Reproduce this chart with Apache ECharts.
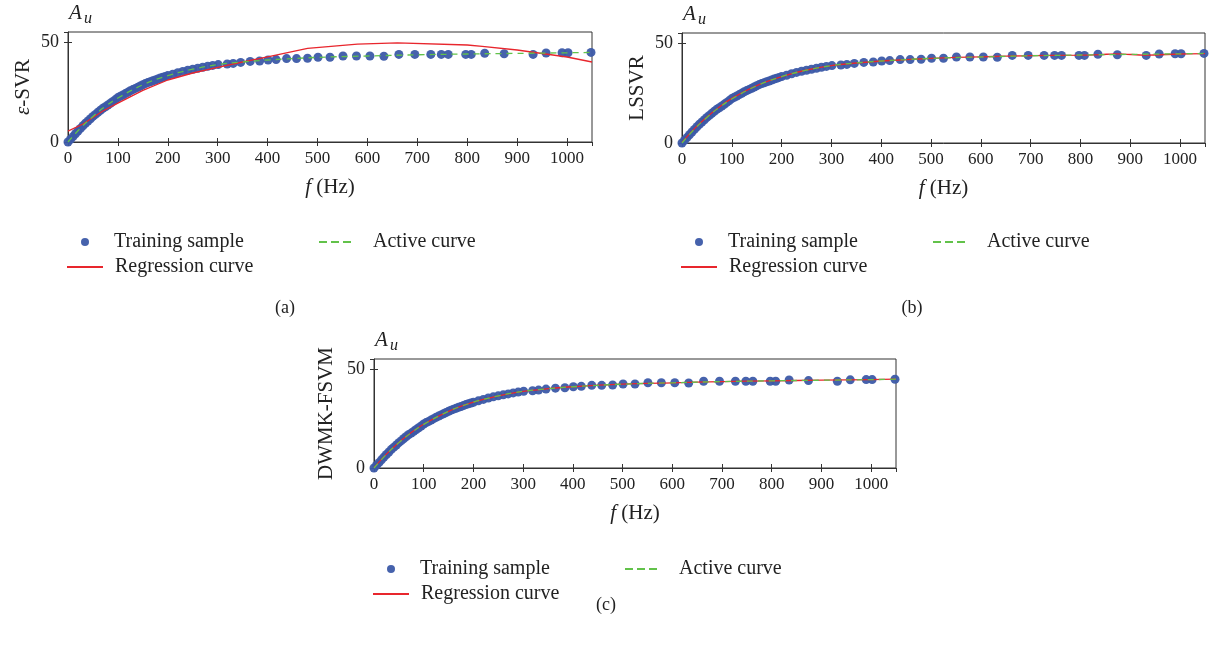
<!DOCTYPE html>
<html>
<head>
<meta charset="utf-8">
<script src="https://cdn.jsdelivr.net/npm/echarts@6/dist/echarts.min.js"></script>
<style>
  html, body { margin: 0; padding: 0; background: #fff; }
  #main { width: 1210px; height: 648px; }
</style>
</head>
<body>
<div id="main"></div>
<script>
// training samples (Hz, A_u)
var sampleFreq = [0, 5, 10, 15, 20, 25, 30, 35, 40, 45, 50, 55, 60, 65, 70, 75, 80, 85, 90, 95,
  100, 105, 110, 115, 120, 125, 130, 135, 140, 145, 150, 155, 160, 165, 170, 175, 180, 185, 190, 195,
  200, 210, 220, 230, 240, 250, 260, 270, 280, 290, 301, 319, 331, 346, 365, 384, 401, 417, 438, 458,
  480, 501, 525, 551, 578, 605, 633, 663, 695, 727, 748, 762, 797, 808, 835, 874, 932, 958, 990, 1002, 1048];
var sampleAmp = [0, 1.3, 2.7, 4.1, 5.5, 6.8, 8.1, 9.4, 10.5, 11.6, 12.8, 13.8, 14.9, 15.9, 16.9, 17.6, 18.5, 19.4, 20.3, 21.2,
  22.2, 22.9, 23.5, 24.2, 24.9, 25.6, 26.2, 26.8, 27.4, 28.0, 28.6, 29.2, 29.7, 30.1, 30.6, 31.0, 31.5, 32.0, 32.4, 32.8,
  33.2, 33.9, 34.6, 35.3, 35.9, 36.4, 36.9, 37.4, 37.9, 38.3, 38.7, 39.0, 39.3, 39.8, 40.3, 40.5, 41.0, 41.2, 41.7, 41.7,
  41.9, 42.4, 42.4, 43.0, 43.0, 43.0, 42.9, 43.8, 43.8, 43.8, 43.8, 43.8, 43.8, 43.8, 44.4, 44.1, 43.8, 44.5, 44.6, 44.6, 44.8];

// active curve (same in every panel)
var activeFreq = [0, 25, 50, 75, 100, 150, 200, 250, 300, 350, 400, 500, 600, 700, 800, 900, 1000, 1050];
var activeAmp = [0, 6.9, 12.8, 17.8, 22.0, 28.6, 33.2, 36.4, 38.7, 40.0, 41.0, 42.3, 43.0, 43.6, 44.0, 44.3, 44.6, 44.8];

// regression curves
var regAFreq = [0, 30, 70, 100, 150, 200, 250, 300, 350, 400, 480, 580, 660, 800, 830, 900, 1000, 1050];
var regAAmp = [5.4, 9.0, 15.5, 19.4, 25.8, 31.0, 34.5, 37.3, 40.0, 42.6, 46.8, 48.9, 49.6, 48.5, 47.8, 46.0, 42.5, 40.0];
var regBFreq = [0, 25, 50, 75, 100, 150, 200, 250, 300, 350, 400, 450, 500, 550, 600, 650, 700, 800, 840, 874, 930, 1000, 1050];
var regBAmp = [0.3, 7.2, 13.0, 18.0, 22.3, 28.7, 33.2, 36.5, 38.7, 40.0, 41.0, 41.7, 42.3, 42.8, 43.1, 43.4, 43.7, 43.9, 44.2, 44.6, 43.9, 44.5, 44.7];
var regCFreq = [0, 25, 50, 75, 100, 150, 200, 250, 300, 350, 400, 500, 600, 700, 800, 900, 1000, 1050];
var regCAmp = [0.2, 7.0, 12.9, 17.9, 22.1, 28.6, 33.2, 36.4, 38.7, 40.0, 41.0, 42.3, 43.0, 43.6, 44.0, 44.3, 44.6, 44.8];

var panelNames = ['{i|ε}-SVR', 'LSSVR', 'DWMK-FSVM'];
var captions = ['(a)', '(b)', '(c)'];

var FONT = "'Liberation Serif', 'DejaVu Serif', serif";
var BLUE = '#3c5aa8', RED = '#e8262d', GREEN = '#62c24a';

var grids = [
  {left: 68, top: 32, width: 524, height: 110, nameGap: 34},
  {left: 682, top: 33, width: 523, height: 110, nameGap: 34},
  {left: 374, top: 359, width: 522, height: 109, nameGap: 37}
];
var legendRow = [242, 242, 569];
var captionPos = [[285, 308], [912, 308], [606, 605]];

function pairs(xs, ys) {
  var out = [];
  for (var i = 0; i < xs.length; i++) out.push([xs[i], ys[i]]);
  return out;
}

var regs = [pairs(regAFreq, regAAmp), pairs(regBFreq, regBAmp), pairs(regCFreq, regCAmp)];
var samples = pairs(sampleFreq, sampleAmp);
var active = pairs(activeFreq, activeAmp);

var option = {
  animation: false,
  backgroundColor: '#fff',
  textStyle: {fontFamily: FONT},
  grid: [], xAxis: [], yAxis: [], series: [], legend: [], graphic: []
};

function plain(v) { return String(v); }

for (var p = 0; p < 3; p++) {
  var g = grids[p];
  option.grid.push({left: g.left, top: g.top, width: g.width, height: g.height,
    show: true, borderColor: '#333', borderWidth: 1, backgroundColor: 'transparent'});
  // bottom x axis
  option.xAxis.push({
    type: 'value', gridIndex: p, min: 0, max: 1050, interval: 100, position: 'bottom',
    name: '{i|f} (Hz)', nameLocation: 'middle', nameGap: 35,
    nameTextStyle: {fontFamily: FONT, fontSize: 21, color: '#222',
      rich: {i: {fontFamily: FONT, fontSize: 21, fontStyle: 'italic', color: '#222'}}},
    axisLine: {show: true, lineStyle: {color: '#333'}},
    axisTick: {inside: true, length: 4, lineStyle: {color: '#333'}},
    axisLabel: {fontFamily: FONT, fontSize: 17, color: '#222', margin: 8, showMaxLabel: false, formatter: plain},
    splitLine: {show: false}
  });
  // top x axis (ticks only)
  option.xAxis.push({
    type: 'value', gridIndex: p, min: 0, max: 1050, interval: 100, position: 'top',
    axisLine: {show: false}, axisLabel: {show: false},
    axisTick: {inside: true, length: 4, lineStyle: {color: '#333'}},
    splitLine: {show: false}
  });
  // left y axis
  option.yAxis.push({
    type: 'value', gridIndex: p, min: 0, max: 55, interval: 50, position: 'left',
    name: panelNames[p], nameLocation: 'middle', nameGap: g.nameGap, nameRotate: 90,
    nameTextStyle: {fontFamily: FONT, fontSize: 21, color: '#222',
      rich: {i: {fontFamily: FONT, fontSize: 21, fontStyle: 'italic', color: '#222'}}},
    axisLine: {show: true, lineStyle: {color: '#333'}},
    axisTick: {inside: true, length: 4, lineStyle: {color: '#333'}},
    axisLabel: {fontFamily: FONT, fontSize: 18, color: '#222', margin: 9, showMaxLabel: false, formatter: plain},
    splitLine: {show: false}
  });
  // right y axis (ticks only)
  option.yAxis.push({
    type: 'value', gridIndex: p, min: 0, max: 55, interval: 50, position: 'right',
    axisLine: {show: false}, axisLabel: {show: false},
    axisTick: {inside: true, length: 4, lineStyle: {color: '#333'}},
    splitLine: {show: false}
  });

  option.series.push({
    name: 'Training sample', type: 'scatter', xAxisIndex: 2 * p, yAxisIndex: 2 * p,
    data: samples, symbol: 'circle', symbolSize: 9,
    itemStyle: {color: BLUE, opacity: 0.95}, z: 2
  });
  option.series.push({
    name: 'Regression curve', type: 'line', xAxisIndex: 2 * p, yAxisIndex: 2 * p,
    data: regs[p], showSymbol: false, symbol: 'none', smooth: p > 0 ? 0.3 : false,
    lineStyle: {color: RED, width: 1.3}, itemStyle: {color: RED}, z: 3
  });
  option.series.push({
    name: 'Active curve', type: 'line', xAxisIndex: 2 * p, yAxisIndex: 2 * p,
    data: active, showSymbol: false, symbol: 'none', smooth: 0.4,
    lineStyle: {color: GREEN, width: 1.3, type: [6, 5]}, itemStyle: {color: GREEN}, z: 4
  });

  var r = legendRow[p];
  option.legend.push({
    data: [{name: 'Training sample', icon: 'circle'}], left: g.left + 13, top: r - 10, padding: 0,
    itemWidth: 8, itemHeight: 8, selectedMode: false,
    textStyle: {fontFamily: FONT, fontSize: 20, color: '#222', padding: [0, 0, 0, 20]}
  });
  option.legend.push({
    data: [{name: 'Active curve', icon: 'path://M0,0h8v2h-8z M12,0h8v2h-8z M24,0h8v2h-8z'}],
    left: g.left + 251, top: r - 10, padding: 0,
    itemWidth: 32, itemHeight: 2, selectedMode: false,
    textStyle: {fontFamily: FONT, fontSize: 20, color: '#222', padding: [0, 0, 0, 17]}
  });
  option.legend.push({
    data: [{name: 'Regression curve', icon: 'path://M0,0h36v2h-36z'}],
    left: g.left - 1, top: r + 15, padding: 0,
    itemWidth: 36, itemHeight: 2, selectedMode: false,
    textStyle: {fontFamily: FONT, fontSize: 20, color: '#222', padding: [0, 0, 0, 7]}
  });

  // A_u label above the box
  option.graphic.push({
    type: 'text', left: g.left + 1, top: g.top - 29,
    style: {text: 'A', font: 'italic 21px ' + FONT, fill: '#222'}
  });
  option.graphic.push({
    type: 'text', left: g.left + 16, top: g.top - 21,
    style: {text: 'u', font: 'italic 16px ' + FONT, fill: '#222'}
  });
  option.graphic.push({
    type: 'text', x: captionPos[p][0], y: captionPos[p][1],
    style: {text: captions[p], font: '18px ' + FONT, fill: '#222', align: 'center', verticalAlign: 'middle'}
  });
}

var myChart = echarts.init(document.getElementById('main'));
myChart.setOption(option);
</script>
</body>
</html>
